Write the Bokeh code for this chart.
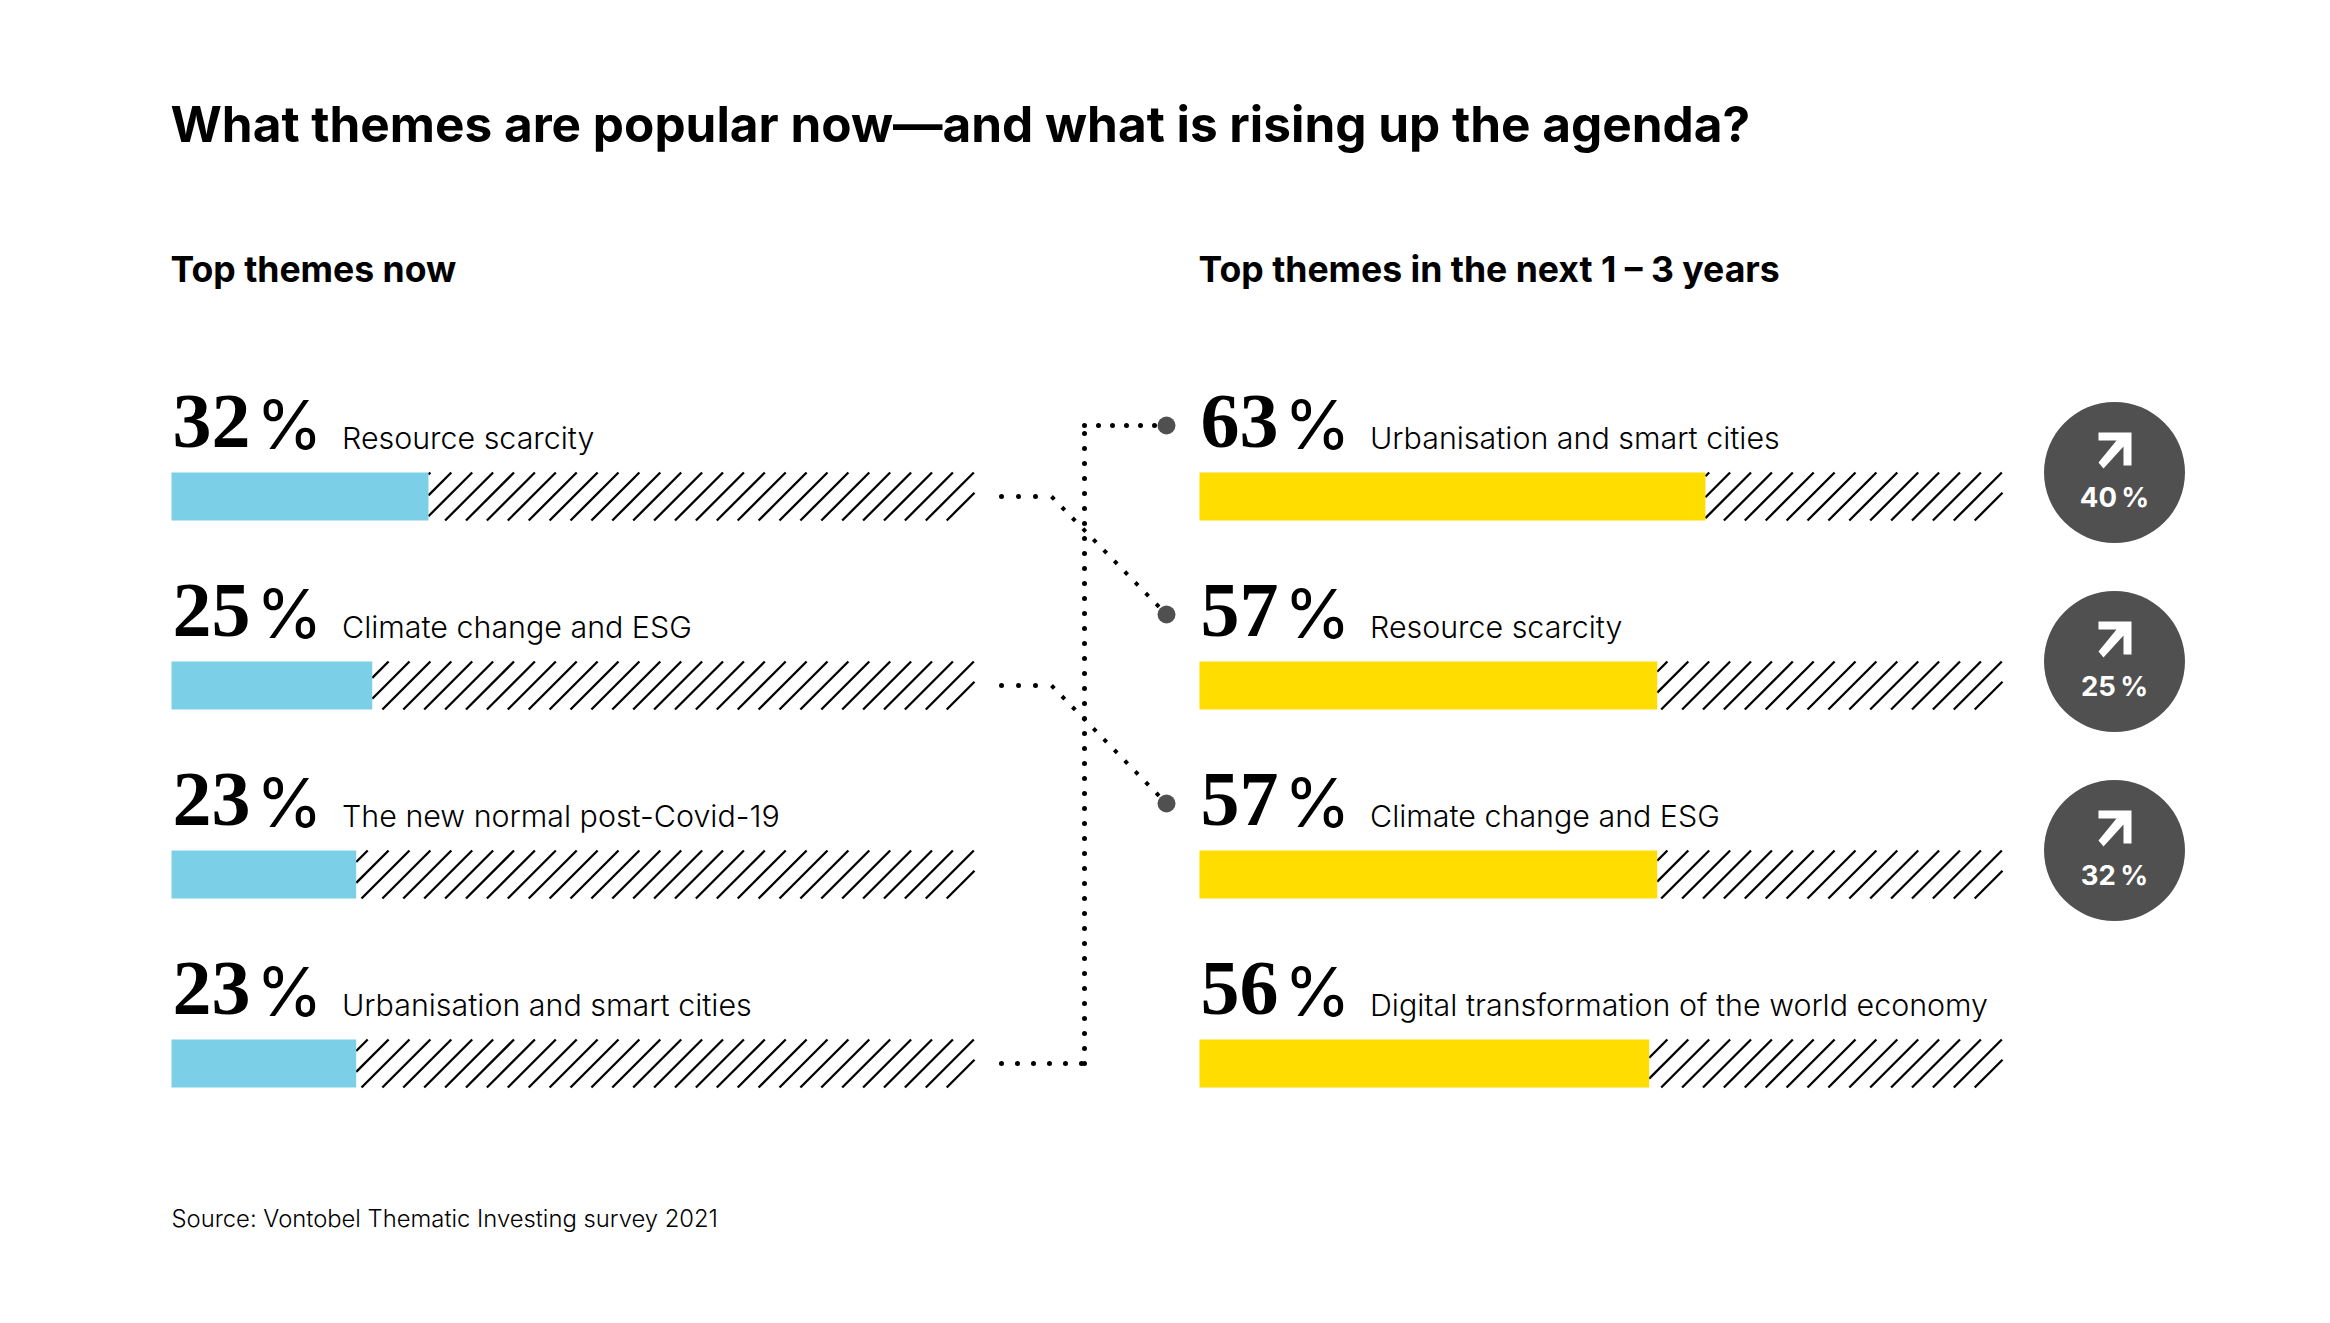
from bokeh.plotting import figure
from bokeh.models import Range1d
from bokeh.core.properties import value
from bokeh.embed import file_html
from bokeh.resources import INLINE

title = "What themes are popular now—and what is rising up the agenda?"
head_left = "Top themes now"
head_right = "Top themes in the next 1 – 3 years"
source = "Source: Vontobel Thematic Investing survey 2021"
now_labels = ["Resource scarcity", "Climate change and ESG", "The new normal post-Covid-19", "Urbanisation and smart cities"]
now_values = [32, 25, 23, 23]
next_labels = ["Urbanisation and smart cities", "Resource scarcity", "Climate change and ESG", "Digital transformation of the world economy"]
next_values = [63, 57, 57, 56]
rise_values = [40, 25, 32]
rows = [0, 1, 2, 3]

W, H = 2314, 1307
PX_PER_PCT = 8.03
ROW_PX = 189.0
X0, Y0 = 171.0, 496.0
OFFSET = (1199.0 - X0) / PX_PER_PCT
K = 0.4

def X(px):
    return (px - X0) / PX_PER_PCT

def Y(py):
    return (py - Y0) / ROW_PX

def TY(py, size):
    return Y(py - K * size)

p = figure(width=W, height=H, output_backend="svg", toolbar_location=None,
           x_range=Range1d(X(0), X(W)), y_range=Range1d(Y(H), Y(0)),
           min_border=0, outline_line_color=None, background_fill_color="white")
p.axis.visible = False
p.grid.visible = False

BAR_PX = 48.0
BAR_H = BAR_PX / ROW_PX
DARK = "#505050"
SANS = value("Inter")
SANS_LIGHT = value("Inter Light")
HATCH_STEP = 20.9 / PX_PER_PCT
SLANT = BAR_PX / PX_PER_PCT

def hatch(offset, values):
    x0, y0, x1, y1 = [], [], [], []
    right = offset + 100
    for r, v in zip(rows, values):
        start = offset + v
        top = right - 0.7 / PX_PER_PCT
        while top > start:
            xt, xb = top, top - SLANT
            yt, yb = r - BAR_H / 2, r + BAR_H / 2
            if xb < start:
                yb = yt + (xt - start) / SLANT * BAR_H
                xb = start
            x0.append(xb); y0.append(yb); x1.append(xt); y1.append(yt)
            top -= HATCH_STEP
        # the stroke that only shows in the bottom right corner
        xt = right - 0.7 / PX_PER_PCT + HATCH_STEP
        x0.append(xt - SLANT); y0.append(r + BAR_H / 2)
        x1.append(right); y1.append(r + BAR_H / 2 - (right - xt + SLANT) / SLANT * BAR_H)
    p.segment(x0=x0, y0=y0, x1=x1, y1=y1, line_color="black", line_width=2.3)

def panel(offset, values, labels, color):
    hatch(offset, values)
    p.hbar(y=rows, left=[offset] * 4, right=[offset + v for v in values], height=BAR_H,
           fill_color=color, line_color=None)
    p.text(x=[offset + X(172)] * 4, y=[r + TY(452.5, 78) for r in rows], text=[str(v) for v in values],
           text_font=value("Liberation Serif"), text_font_style="bold", text_font_size="78px",
           text_color="black", text_baseline="alphabetic")
    p.text(x=[offset + X(255.5)] * 4, y=[r + TY(451, 68) for r in rows], text=["%"] * 4, text_font=SANS,
           text_font_size="68px", text_color="black", text_baseline="alphabetic")
    p.text(x=[offset + X(341.5)] * 4, y=[r + TY(449.5, 30.4) for r in rows], text=labels, text_font=SANS_LIGHT,
           text_font_size="30.4px", text_color="black", text_baseline="alphabetic")

panel(0, now_values, now_labels, "#7BD0E8")
panel(OFFSET, next_values, next_labels, "#FFDD00")

DOT = dict(line_color="black", line_width=5, line_cap="round")
p.line(x=[X(1001), X(1084)], y=[rows[3], rows[3]], line_dash="0 16", **DOT)
p.line(x=[X(1084), X(1084)], y=[rows[3], Y(425)], line_dash="0 15", **DOT)
p.line(x=[X(1084), X(1160)], y=[Y(425), Y(425)], line_dash="0 14", **DOT)
for r in rows[:2]:
    p.line(x=[X(1001), X(1051)], y=[r, r], line_dash="0 17", **DOT)
    p.line(x=[X(1051), X(1166)], y=[r, r + Y(614) - rows[0]], line_dash="4 11", line_color="black", line_width=4)

p.scatter(x=[X(1166)] * 3, y=[Y(425), Y(614), Y(803)], size=18, marker="circle", fill_color=DARK, line_color=None)

bx = OFFSET + (2114 - 1199) / PX_PER_PCT
p.scatter(x=[bx] * 3, y=[r + Y(472) for r in rows[:3]], size=141, marker="circle", fill_color=DARK, line_color=None)
for r in rows[:3]:
    ax = [2098, 2131, 2131, 2123, 2123, 2103, 2098, 2116, 2098]
    ay = [432, 432, 465, 465, 446, 468, 462, 440, 440]
    p.patch(x=[X(a) for a in ax], y=[r + Y(b) for b in ay], fill_color="white", line_color=None)
p.text(x=[bx] * 3, y=[r + TY(507.5, 27.5) for r in rows[:3]], text=[f"{v}\u2009%" for v in rise_values], text_font=SANS,
       text_font_style="bold", text_font_size="27.5px", text_color="white", text_align="center",
       text_baseline="alphabetic")

def label(px, py, s, size, font=SANS, bold=True):
    p.text(x=[X(px)], y=[TY(py, size)], text=[s], text_font=font, text_font_size=f"{size}px", text_color="black",
           text_font_style="bold" if bold else "normal", text_baseline="alphabetic")

label(170, 143, title, 49.5)
label(170, 283.5, head_left, 35.6)
label(1198, 283.5, head_right, 35.6)
label(171, 1228, source, 23.8, font=SANS_LIGHT, bold=False)

open("out.html", "w").write(file_html(p, INLINE))
